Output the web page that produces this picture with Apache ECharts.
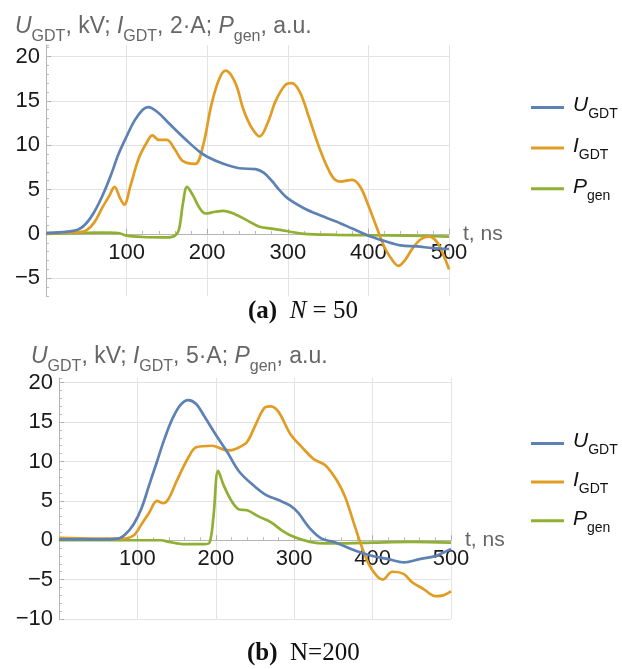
<!DOCTYPE html>
<html><head><meta charset="utf-8">
<script src="https://cdn.jsdelivr.net/npm/echarts@6/dist/echarts.min.js"></script>
<style>html,body{margin:0;padding:0;background:#fff}#c{width:622px;height:669px}</style>
</head><body><div id="c"></div>
<script>
// ---- data: chart (a) N = 50 ----
const tU_a = [0,20,40,50,60,70,80,90,100,110,120,127,140,150,160,175,190,200,220,240,260,270,280,290,300,320,340,360,380,400,420,440,460,480,500];
const U_a  = [0.1,0.2,0.5,1.2,2.5,4.3,6.5,9,11,12.8,14,14.3,13.6,12.7,11.8,10.5,9.3,8.7,7.9,7.4,7.3,6.9,6.0,4.9,4.0,2.9,2.1,1.4,0.6,-0.2,-0.8,-1.3,-1.4,-1.6,-1.7];
const tI_a = [0,40,50,60,70,78,85,92,97,105,115,125,132,140,150,160,170,185,195,205,215,223,235,245,255,265,275,285,297,305,315,325,340,355,365,380,390,400,410,420,430,437,445,455,465,475,485,495,500];
const I_a  = [0.1,0.2,0.4,1.3,3.0,4.2,5.3,4.0,3.3,5.5,8.5,10.3,11.1,10.6,10.6,9.5,8.2,7.9,10,14.5,17.5,18.4,17.0,14,12,11,12.5,15,16.8,17.0,16.0,13.5,9.5,6.5,5.9,6.1,5.3,3.2,0.8,-1.5,-3.0,-3.6,-3.0,-1.6,-0.6,-0.3,-0.9,-2.8,-4.0];
const tP_a = [0,70,90,100,120,150,160,165,170,175,182,190,198,210,220,235,250,265,280,300,320,360,400,450,500];
const P_a  = [0,0.15,0.1,-0.2,-0.35,-0.4,-0.2,0.5,3.5,5.3,4.4,3.0,2.3,2.5,2.6,2.2,1.5,0.8,0.6,0.3,0,-0.1,-0.15,-0.2,-0.3];
// ---- data: chart (b) N = 200 ----
const tU_b = [0,60,75,85,95,105,115,125,135,145,155,165,175,185,200,214,230,250,265,280,295,305,320,335,350,365,380,400,420,440,460,480,500];
const U_b  = [0.1,0.1,0.2,0.8,2.0,4.0,7.0,10,13,15.5,17.2,17.8,17.3,15.8,13.4,11.3,8.7,6.8,5.7,5.1,4.4,3.5,1.5,0.2,-0.2,-0.8,-1.4,-2.0,-2.4,-2.8,-2.4,-2.0,-1.1];
const tI_b = [0,50,80,95,105,115,125,133,140,150,165,175,195,210,218,230,240,250,262,270,280,295,310,325,340,355,365,375,385,395,405,413,425,440,450,465,480,490,500];
const I_b  = [0.3,0.2,0.2,0.6,2.0,3.5,5.0,4.7,5.3,7.5,10.5,11.8,12.0,11.5,11.4,11.8,12.5,14.5,16.8,17.0,16.3,13.5,11.8,10.3,9.5,7.5,5.5,2.5,-0.5,-3.0,-4.5,-5.0,-4.0,-4.3,-5.3,-6.2,-7.1,-7.0,-6.5];
const tP_b = [0,130,140,160,185,192,197,203,210,220,230,240,255,270,285,300,320,340,360,400,450,500];
const P_b  = [0,0,-0.2,-0.5,-0.5,-0.3,3.0,8.8,7.0,5.0,3.9,3.8,3.0,2.3,1.2,0.4,-0.2,-0.4,-0.4,-0.3,-0.2,-0.3];
// ---- ticks / labels ----
const xTicks = [100,200,300,400,500];
const yTicks_a = [-5,0,5,10,15,20];
const yTicks_b = [-10,-5,0,5,10,15,20];
const seriesNames = ['U','I','P'];
const titleA = '{i|U}{s|GDT}{n|, kV; }{i|I}{s|GDT}{n|, 2·A; }{i|P}{s|gen}{n|, a.u.}';
const titleB = '{i|U}{s|GDT}{n|, kV; }{i|I}{s|GDT}{n|, 5·A; }{i|P}{s|gen}{n|, a.u.}';
const legendLabels = {U:'{i|U}{s|GDT}', I:'{i|I}{s|GDT}', P:'{i|P}{s|gen}'};
const xName = 't, ns';

const colors = ['#5E81B5','#E19C24','#8FB032'];
const FONT = 'Liberation Sans';
const zip = (t, v) => t.map((x, i) => [x, v[i]]);
const minusFmt = v => String(v).replace('-', '\u2212');

function richStyle(size, sub, color){
  return {
    i:{fontSize:size, fontStyle:'italic', fontWeight:'normal', fontFamily:FONT, color:color, lineHeight:size+4, verticalAlign:'top'},
    n:{fontSize:size, fontWeight:'normal', fontFamily:FONT, color:color, lineHeight:size+4, verticalAlign:'top'},
    s:{fontSize:sub, fontWeight:'normal', fontFamily:FONT, color:color, lineHeight:sub, padding:[size*0.6,0,0,0], verticalAlign:'top'}
  };
}

// plotting grids and label grids (label grids end at the y = 0 line)
const grids = [
  {left:46, right:173, top:45, bottom:669-296},
  {left:59, right:171, top:378, bottom:50},
  {left:46, right:173, top:45, bottom:669-234.3},
  {left:59, right:171, top:378, bottom:129}
];
const yRanges = [[-7,21.3],[-10,20.6]];
const yTickSets = [yTicks_a, yTicks_b];

const xAxes = [], yAxes = [], series = [];
[0,1].forEach(g => {
  xAxes.push({
    type:'value', gridIndex:g, min:0, max:500, interval:100,
    name:xName, nameLocation:'end', nameGap:14,
    nameTextStyle:{fontSize:21, color:'#666', fontFamily:FONT, verticalAlign:'middle'},
    axisLine:{onZero:true, lineStyle:{color:'#b5b5b5', width:1}},
    axisTick:{inside:true, length:5, lineStyle:{color:'#aaa'}},
    minorTick:{show:true, splitNumber:5, length:3, lineStyle:{color:'#bbb'}},
    splitLine:{show:true, lineStyle:{color:'#e3e3e3', width:1}},
    axisLabel:{show:false}
  });
  yAxes.push({
    type:'value', gridIndex:g, min:yRanges[g][0], max:yRanges[g][1],
    axisLine:{show:true, onZero:false, lineStyle:{color:'#b5b5b5', width:1}},
    axisTick:{show:true, inside:true, length:5, customValues:yTickSets[g], lineStyle:{color:'#aaa'}},
    splitLine:{show:true, lineStyle:{color:'#e3e3e3', width:1}},
    axisLabel:{fontSize:22, color:'#1a1a1a', fontFamily:FONT, margin:6, customValues:yTickSets[g], formatter:minusFmt}
  });
  yAxes.push({
    type:'value', gridIndex:g, min:yRanges[g][0], max:yRanges[g][1], interval:1,
    position:'left',
    axisLine:{show:false, onZero:false},
    axisTick:{show:true, inside:true, length:3, lineStyle:{color:'#bbb'}},
    splitLine:{show:false}, axisLabel:{show:false}
  });
});
// label-only axes sitting on the zero line
[2,3].forEach(g => {
  xAxes.push({
    type:'value', gridIndex:g, min:0, max:500, interval:100,
    axisLine:{show:false, onZero:false}, axisTick:{show:false}, splitLine:{show:false},
    axisLabel:{fontSize:22, color:'#1a1a1a', fontFamily:FONT, margin:8, showMinLabel:false, showMaxLabel:true,
      formatter: v => xTicks.includes(v) ? String(v) : ''}
  });
  yAxes.push({
    type:'value', gridIndex:g, min:0, max:20, show:false
  });
});

const dataSets = [
  [zip(tU_a,U_a), zip(tI_a,I_a), zip(tP_a,P_a)],
  [zip(tU_b,U_b), zip(tI_b,I_b), zip(tP_b,P_b)]
];
[0,1].forEach(g => {
  [2,1,0].forEach(k => {
    series.push({
      type:'line', name:seriesNames[k], xAxisIndex:g, yAxisIndex:g*2,
      data:dataSets[g][k], smooth:0.35, showSymbol:false, symbol:'none',
      lineStyle:{color:colors[k], width:2.7}, itemStyle:{color:colors[k]},
      z: 2 + (k===2?0:(k===1?1:2)), animation:false, clip:true
    });
  });
});

function legendFor(top, gap){
  return {
    orient:'vertical', left:526, top:top, itemGap:gap,
    icon:'rect', itemWidth:33, itemHeight:3,
    data:seriesNames.map((n,k)=>({name:n, itemStyle:{color:colors[k]}})),
    formatter: n => legendLabels[n],
    textStyle:{rich:richStyle(21,14,'#111'), padding:[0,0,0,4]},
    selectedMode:false
  };
}

const capRich = {
  b:{fontFamily:'Liberation Serif', fontWeight:'bold', fontSize:25, fill:'#111'},
  i:{fontFamily:'Liberation Serif', fontStyle:'italic', fontSize:25, fill:'#111'},
  n:{fontFamily:'Liberation Serif', fontSize:25, fill:'#111'}
};

const chart = echarts.init(document.getElementById('c'), null, {renderer:'canvas'});
chart.setOption({
  animation:false,
  backgroundColor:'#fff',
  color:colors,
  grid:grids,
  xAxis:xAxes, yAxis:yAxes, series:series,
  title:[
    {text:titleA, left:10, top:10, textStyle:{fontWeight:'normal', rich:richStyle(23,16,'#666')}},
    {text:titleB, left:26, top:340, textStyle:{fontWeight:'normal', rich:richStyle(23,16,'#666')}}
  ],
  legend:[legendFor(90, 14), legendFor(426, 12)],
  graphic:[
    {type:'text', left:248, top:299, style:{text:'{b|(a)}{n|  }{i|N}{n| = 50}', rich:capRich}},
    {type:'text', left:247, top:641, style:{text:'{b|(b)}{n|  N=200}', rich:capRich}}
  ]
});
</script></body></html>
